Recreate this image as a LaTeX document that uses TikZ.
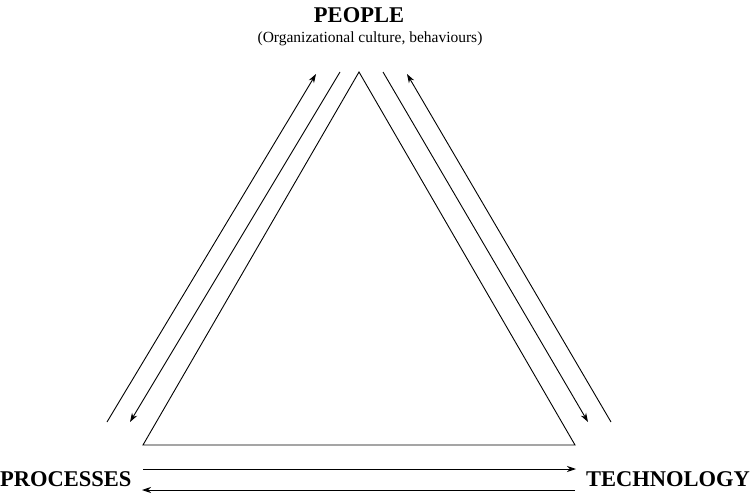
\documentclass[tikz,border=0pt]{standalone}
\usepackage{fontspec}
\setmainfont{Liberation Serif}
\usetikzlibrary{arrows.meta}
\begin{document}
\begin{tikzpicture}[x=1pt,y=-1pt,
  edge/.style={line width=0.9pt},
  arr/.style={line width=0.9pt,-{Stealth[length=9pt,width=6pt]}},
  lbl/.style={font=\fontsize{22.5}{24}\selectfont\bfseries,inner sep=0pt},
  sub/.style={font=\fontsize{15.5}{18}\selectfont,inner sep=0pt}]
\useasboundingbox (0,0) rectangle (754,494);
% triangle
\coordinate (A) at (359,72);
\coordinate (B) at (143,445);
\coordinate (C) at (575,445);
\draw[edge,line join=miter] (A) -- (B) -- (C) -- cycle;
% left side arrows
\coordinate (l1s) at (107,422);
\coordinate (l1e) at (316,74);
\coordinate (l2s) at (340,72);
\coordinate (l2e) at (130,422);
\draw[arr] (l1s) -- (l1e);
\draw[arr] (l2s) -- (l2e);
% right side arrows
\coordinate (r1s) at (383,72);
\coordinate (r1e) at (588,422);
\coordinate (r2s) at (611,422);
\coordinate (r2e) at (407,74);
\draw[arr] (r1s) -- (r1e);
\draw[arr] (r2s) -- (r2e);
% bottom arrows
\coordinate (b1s) at (143,469);
\coordinate (b1e) at (576,469);
\coordinate (b2s) at (575,490);
\coordinate (b2e) at (142,490);
\draw[arr] (b1s) -- (b1e);
\draw[arr] (b2s) -- (b2e);
% labels
\node[lbl] (people) at (359,15) {PEOPLE};
\node[sub] (culture) at (370,39) {(Organizational culture, behaviours)};
\node[lbl,anchor=west] (proc) at (0,479) {PROCESSES};
\node[lbl,anchor=east] (tech) at (750,479) {TECHNOLOGY};
\end{tikzpicture}
\end{document}
